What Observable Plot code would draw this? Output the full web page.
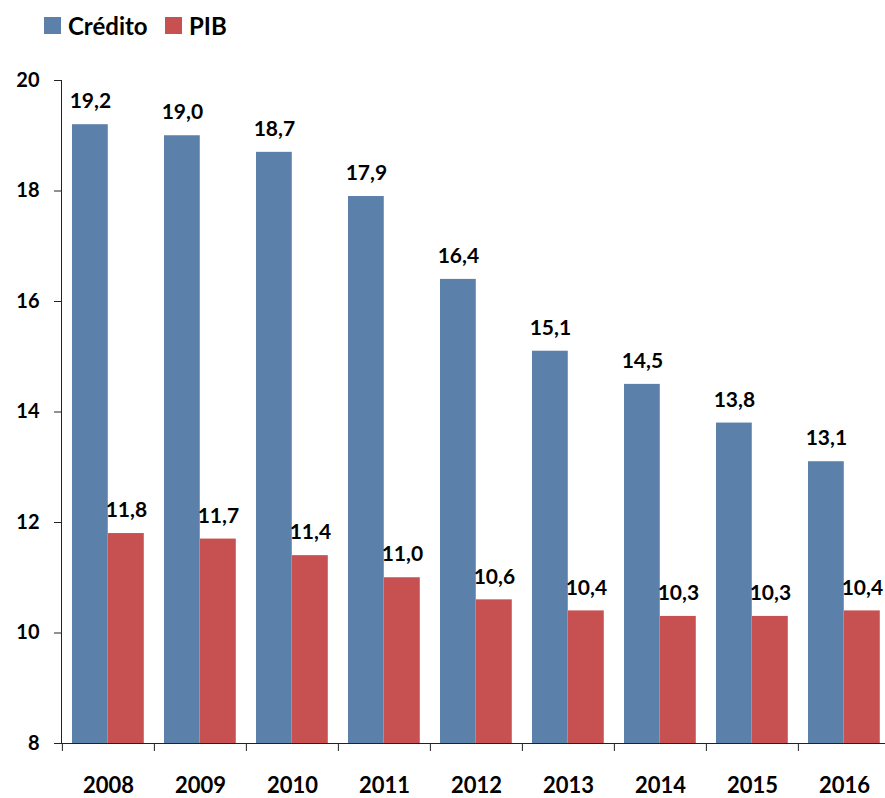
<!DOCTYPE html>
<html>
<head>
<meta charset="utf-8">
<script src="https://cdn.jsdelivr.net/npm/d3@7"></script>
<script src="https://cdn.jsdelivr.net/npm/@observablehq/plot@0.6"></script>
<style>
  html, body { margin: 0; padding: 0; background: #fff; overflow: hidden; }
  body { width: 885px; height: 798px; font-family: Lato, "Open Sans", sans-serif; }
  .legend { height: 50px; position: relative; }
  .legend .item { position: absolute; top: 11px; display: flex; align-items: center; font-weight: 700; font-size: 24px; color: #000; }
  .legend .sw { width: 17px; height: 17px; margin-right: 7px; }
  svg { overflow: hidden; }
</style>
</head>
<body>
<div class="legend" id="legend"></div>
<div id="chart"></div>
<script>
const years = ["2008", "2009", "2010", "2011", "2012", "2013", "2014", "2015", "2016"];
const credito = [19.2, 19.0, 18.7, 17.9, 16.4, 15.1, 14.5, 13.8, 13.1];
const pib = [11.8, 11.7, 11.4, 11.0, 10.6, 10.4, 10.3, 10.3, 10.4];
const yTicks = [8, 10, 12, 14, 16, 18, 20];
const seriesNames = ["Crédito", "PIB"];
const seriesColors = ["#5b80aa", "#c75150"];

const legend = document.getElementById("legend");
const legendX = [44, 165];
seriesNames.forEach((name, i) => {
  const it = document.createElement("div");
  it.className = "item";
  it.style.left = legendX[i] + "px";
  it.innerHTML = `<span class="sw" style="background:${seriesColors[i]}"></span><span>${name}</span>`;
  legend.appendChild(it);
});

const rows = years.map((year, i) => ({year, credito: credito[i], pib: pib[i]}));
const fmt = v => v.toFixed(1).replace(".", ",");

const W = 885, H = 748;
const xStart = 61, xEnd = 891;
const step = (xEnd - xStart) / years.length;
const barW = 36, pad = 10;
const base = yTicks[0];

const plot = Plot.plot({
  width: W,
  height: H,
  marginTop: 30,
  marginBottom: 55,
  marginLeft: 61,
  marginRight: 0,
  style: {fontFamily: "Lato, 'Open Sans', sans-serif", fontWeight: 700, color: "#000", background: "#fff"},
  x: {type: "band", domain: years, range: [xStart, xEnd], padding: 0, label: null},
  y: {domain: [yTicks[0], yTicks[yTicks.length - 1]], label: null},
  marks: [
    Plot.barY(rows, {x: "year", y1: base, y2: "credito", fill: seriesColors[0], insetLeft: pad, insetRight: step - pad - barW}),
    Plot.barY(rows, {x: "year", y1: base, y2: "pib", fill: seriesColors[1], insetLeft: pad + barW, insetRight: step - pad - 2 * barW}),
    Plot.text(rows, {x: "year", y: "credito", text: d => fmt(d.credito), dx: pad + barW / 2 - step / 2, dy: -23, fontSize: 21, fontWeight: 700, fill: "#000"}),
    Plot.text(rows, {x: "year", y: "pib", text: d => fmt(d.pib), dx: pad + 1.5 * barW - step / 2, dy: -23, fontSize: 21, fontWeight: 700, fill: "#000"}),
    Plot.axisY({ticks: yTicks, tickSize: 7, tickPadding: 15, fontSize: 20, fontWeight: 700, stroke: "#222", strokeOpacity: 1, tickFormat: d => String(d)}),
    Plot.axisX({ticks: years, tickSize: 8, tickFormat: () => "", dx: -step / 2, stroke: "#222", strokeOpacity: 1}),
    Plot.axisX({ticks: years, tickSize: 0, tickPadding: 34, fontSize: 22, fontWeight: 700}),
    Plot.frame({anchor: "left", stroke: "#222"}),
    Plot.frame({anchor: "bottom", stroke: "#222"})
  ]
});
document.getElementById("chart").appendChild(plot);
</script>
</body>
</html>
